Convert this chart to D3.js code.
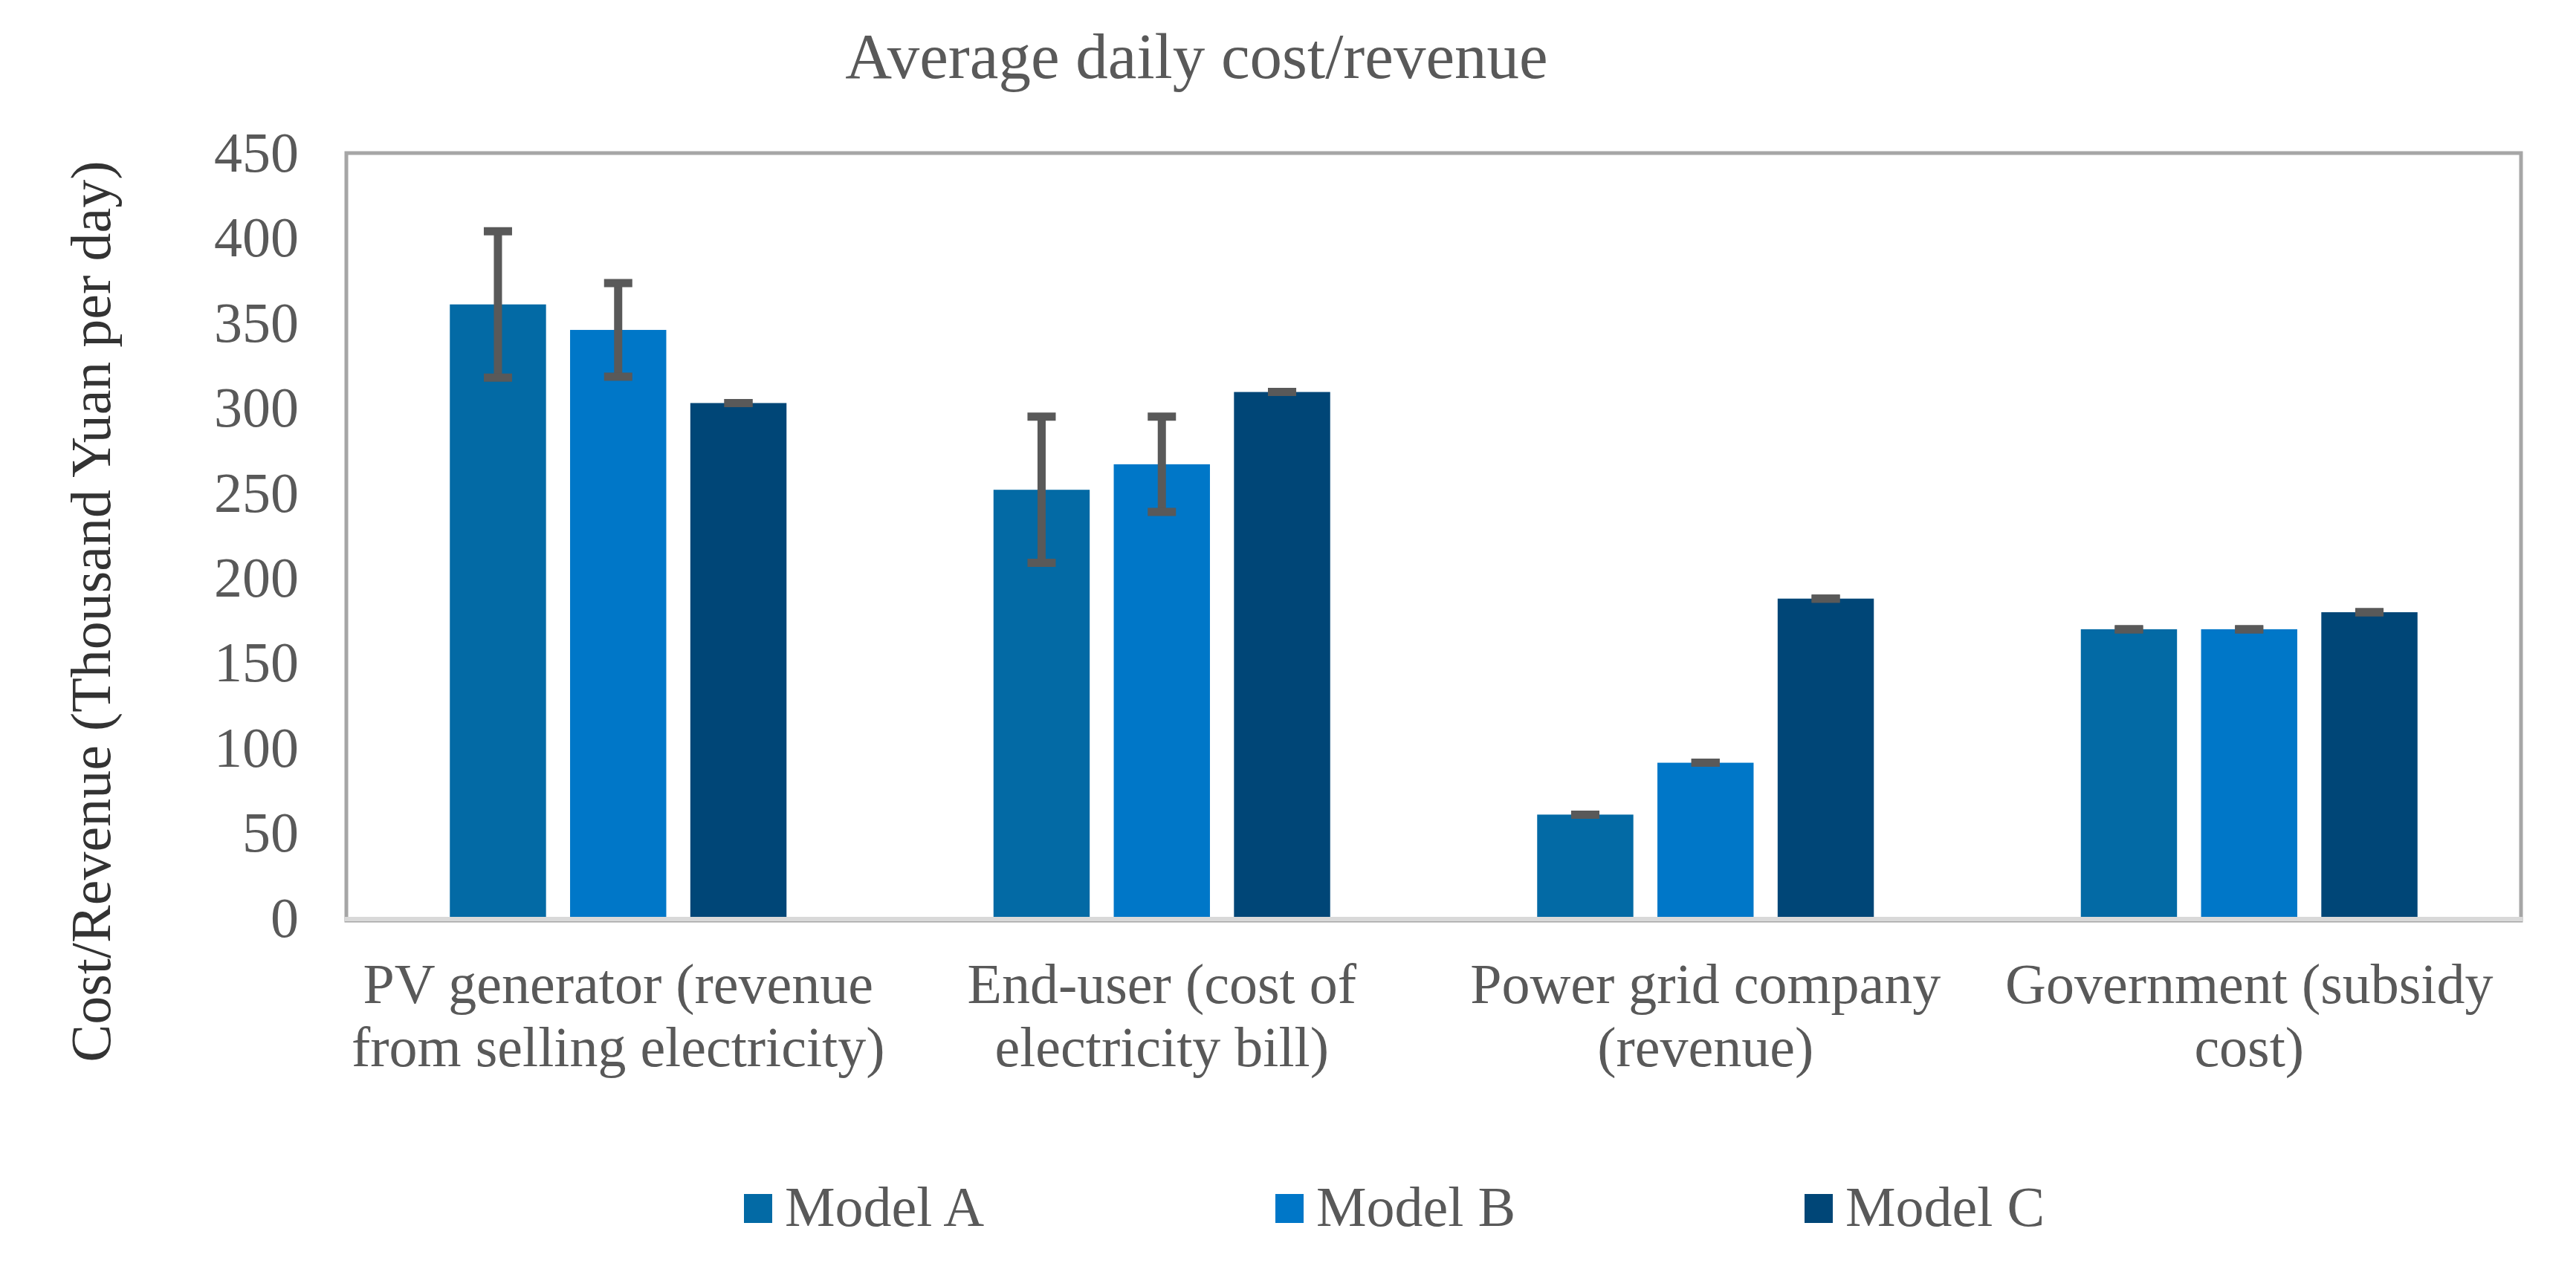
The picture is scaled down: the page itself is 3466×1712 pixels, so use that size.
<!DOCTYPE html>
<html>
<head>
<meta charset="utf-8">
<script src="https://cdn.jsdelivr.net/npm/d3@7"></script>
<style>
  body { margin: 0; background: #fff; }
  text { font-family: "Liberation Serif", "Times New Roman", serif; }
</style>
</head>
<body>
<svg width="3466" height="1712"></svg>
<script>
const categoryLines = [
  ["PV generator (revenue", "from selling electricity)"],
  ["End-user (cost of", "electricity bill)"],
  ["Power grid company", "(revenue)"],
  ["Government (subsidy", "cost)"]
];
const categories = categoryLines.map((l) => l.join(" "));
const series = ["Model A", "Model B", "Model C"];
const colors = ["#036aa5", "#0077c8", "#004677"];

const modelA = [361, 252, 61, 170];
const modelB = [346, 267, 91.5, 170];
const modelC = [303, 309.5, 188, 180];
const errA = [43, 43, 0, 0];
const errB = [27.5, 28, 0, 0];
const errC = [0, 0, 0, 0];
const yTicks = [0, 50, 100, 150, 200, 250, 300, 350, 400, 450];

const values = [modelA, modelB, modelC];
const errors = [errA, errB, errC];

const rows = [];
categories.forEach((c, i) => {
  series.forEach((s, j) => {
    rows.push({ cat: c, series: s, idx: j, value: values[j][i], err: errors[j][i] });
  });
});

const svg = d3.select("svg");
const plotLeft = 466, plotRight = 3392, plotTop = 206, plotBottom = 1236;

const x0 = d3.scaleBand().domain(categories).range([plotLeft, plotRight]).padding(0);
const x1 = d3.scaleBand().domain(series).range([-226.5, 226.5]).paddingInner(0.2).paddingOuter(0);
const y = d3.scaleLinear().domain([0, 450]).range([plotBottom, plotTop]);

// title
svg.append("text")
  .attr("x", 1610)
  .attr("y", 105)
  .attr("text-anchor", "middle")
  .attr("font-size", 87)
  .attr("fill", "#595959")
  .text("Average daily cost/revenue");

// plot frame
svg.append("rect")
  .attr("x", plotLeft)
  .attr("y", plotTop)
  .attr("width", plotRight - plotLeft)
  .attr("height", plotBottom - plotTop + 3)
  .attr("fill", "none")
  .attr("stroke", "#a6a6a6")
  .attr("stroke-width", 5);

// bars
const barGroup = svg.append("g").attr("class", "bars");
barGroup.selectAll("rect")
  .data(rows)
  .enter()
  .append("rect")
  .attr("x", (d) => x0(d.cat) + x0.bandwidth() / 2 + x1(d.series))
  .attr("y", (d) => y(d.value))
  .attr("width", x1.bandwidth())
  .attr("height", (d) => y(0) - y(d.value))
  .attr("fill", (d) => colors[d.idx]);

// x axis line
svg.append("line")
  .attr("x1", plotLeft - 2)
  .attr("x2", plotRight + 2)
  .attr("y1", plotBottom + 1)
  .attr("y2", plotBottom + 1)
  .attr("stroke", "#d9d9d9")
  .attr("stroke-width", 6);

// error bars
const capW = 38;
const errGroup = svg.append("g").attr("class", "errors");
const cx = (d) => x0(d.cat) + x0.bandwidth() / 2 + x1(d.series) + x1.bandwidth() / 2;
errGroup.selectAll("line.stem")
  .data(rows.filter((d) => d.err > 0))
  .enter()
  .append("line")
  .attr("class", "stem")
  .attr("x1", cx)
  .attr("x2", cx)
  .attr("y1", (d) => y(d.value + d.err))
  .attr("y2", (d) => y(d.value - d.err))
  .attr("stroke", "#595959")
  .attr("stroke-width", 11);
["hi", "lo"].forEach((k) => {
  errGroup.selectAll("line.cap-" + k)
    .data(rows)
    .enter()
    .append("line")
    .attr("class", "cap-" + k)
    .attr("x1", (d) => cx(d) - capW / 2)
    .attr("x2", (d) => cx(d) + capW / 2)
    .attr("y1", (d) => y(k === "hi" ? d.value + d.err : d.value - d.err))
    .attr("y2", (d) => y(k === "hi" ? d.value + d.err : d.value - d.err))
    .attr("stroke", "#595959")
    .attr("stroke-width", 11);
});

// y axis
const yAxis = svg.append("g")
  .attr("transform", `translate(${plotLeft},0)`)
  .call(d3.axisLeft(y).tickValues(yTicks).tickSize(0).tickPadding(64));
yAxis.select(".domain").remove();
yAxis.selectAll("text")
  .attr("font-size", 76)
  .attr("fill", "#595959")
  .attr("font-family", "Liberation Serif");

// x category labels
const xAxis = svg.append("g")
  .attr("transform", `translate(0,${plotBottom})`)
  .call(d3.axisBottom(x0).tickSize(0));
xAxis.select(".domain").remove();
xAxis.selectAll("text").each(function (d, i) {
  const t = d3.select(this)
    .text(null)
    .attr("y", 0)
    .attr("dy", null)
    .attr("font-size", 76)
    .attr("fill", "#595959")
    .attr("font-family", "Liberation Serif");
  categoryLines[i].forEach((line, k) => {
    t.append("tspan").attr("x", 0).attr("y", 114 + k * 85).text(line);
  });
});

// y axis title
svg.append("text")
  .attr("transform", "translate(148,823) rotate(-90)")
  .attr("text-anchor", "middle")
  .attr("font-size", 76)
  .attr("fill", "#333333")
  .text("Cost/Revenue (Thousand Yuan per day)");

// legend
const legendX = [1001, 1716, 2428];
const legend = svg.append("g")
  .selectAll("g")
  .data(series)
  .enter()
  .append("g")
  .attr("transform", (d, i) => `translate(${legendX[i]},0)`);
legend.append("rect")
  .attr("x", 0)
  .attr("y", 1607)
  .attr("width", 38)
  .attr("height", 39)
  .attr("fill", (d, i) => colors[i]);
legend.append("text")
  .attr("x", 55)
  .attr("y", 1650)
  .attr("font-size", 76)
  .attr("fill", "#595959")
  .text((d) => d);
</script>
</body>
</html>
